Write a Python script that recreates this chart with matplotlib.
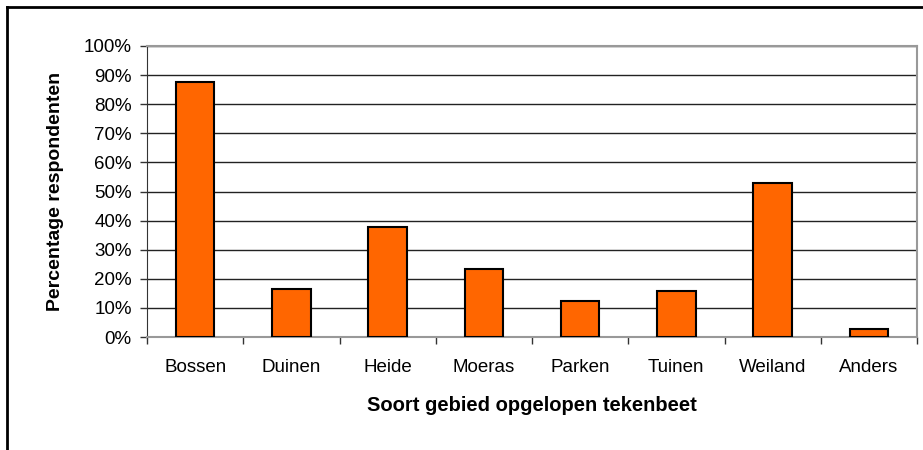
import matplotlib
matplotlib.use("Agg")
import matplotlib.pyplot as plt
from matplotlib.lines import Line2D
from matplotlib.ticker import FixedLocator, PercentFormatter

categories = ["Bossen", "Duinen", "Heide", "Moeras", "Parken", "Tuinen", "Weiland", "Anders"]
percentages = [87.5, 16.5, 37.8, 23.3, 12.3, 15.8, 52.9, 2.6]
y_ticks = list(range(0, 101, 10))

plt.rcParams["font.family"] = ["Liberation Sans", "DejaVu Sans"]

fig = plt.figure(figsize=(9.23, 4.5), dpi=100)
ax = fig.add_axes([147 / 923, 1 - 337 / 450, 770 / 923, 291 / 450])

x = list(range(len(categories)))
ax.bar(x, percentages, width=0.4, color="#FF6600", edgecolor="black", linewidth=1.5, zorder=3)

ax.set_xlim(-0.5, len(categories) - 0.5)
ax.set_ylim(0, 100)
ax.set_yticks(y_ticks)
ax.yaxis.set_major_formatter(PercentFormatter(decimals=0))
ax.set_xticks(x)
ax.set_xticklabels(categories)
ax.xaxis.set_minor_locator(FixedLocator([i + 0.5 for i in range(-1, len(categories))]))

ax.tick_params(axis="x", which="major", length=0, pad=16, labelsize=13.5)
ax.tick_params(axis="x", which="minor", length=5, width=1, color="#333333")
ax.tick_params(axis="y", length=5, width=1, color="#333333", labelsize=13.5, pad=6)

ax.grid(axis="y", color="#222222", linewidth=1, zorder=0)
for side in ["top", "right"]:
    ax.spines[side].set_color("#999999")
    ax.spines[side].set_linewidth(1.5)
ax.spines["left"].set_color("#333333")
ax.spines["bottom"].set_color("#999999")
ax.spines["bottom"].set_linewidth(1.5)

ax.set_xlabel("Soort gebied opgelopen tekenbeet", fontsize=14.5, fontweight="bold", labelpad=14)
ax.set_ylabel("Percentage respondenten", fontsize=14, fontweight="bold", labelpad=14)

# outer chart frame (only left and top edges are visible)
fig.add_artist(Line2D([7 / 923, 7 / 923], [0, 1 - 7 / 450], color="black", linewidth=2, transform=fig.transFigure))
fig.add_artist(Line2D([7 / 923, 1], [1 - 7 / 450, 1 - 7 / 450], color="black", linewidth=2, transform=fig.transFigure))

fig.savefig("out.png", dpi=100)
